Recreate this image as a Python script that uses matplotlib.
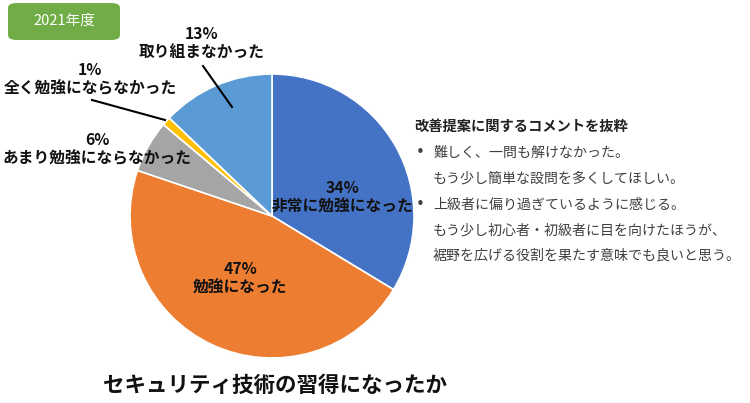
import matplotlib.pyplot as plt
from matplotlib.patches import FancyBboxPatch

plt.rcParams['font.family'] = ['Noto Sans CJK JP', 'DejaVu Sans']

# data
labels = ['非常に勉強になった', '勉強になった', 'あまり勉強にならなかった',
          '全く勉強にならなかった', '取り組まなかった']
values = [34, 47, 6, 1, 13]
colors = ['#4472C4', '#ED7D31', '#A5A5A5', '#FFC000', '#5B9BD5']
title = 'セキュリティ技術の習得になったか'
year_label = '2021年度'
comment_head = '改善提案に関するコメントを抜粋'
comments = [
    ['難しく、一問も解けなかった。', 'もう少し簡単な設問を多くしてほしい。'],
    ['上級者に偏り過ぎているように感じる。', 'もう少し初心者・初級者に目を向けたほうが、',
     '裾野を広げる役割を果たす意味でも良いと思う。'],
]

W, H = 750, 403
fig = plt.figure(figsize=(W / 100, H / 100), dpi=100)


def fx(x):
    return x / W


def fy(y):
    return 1 - y / H


# pie axes: centre (272, 216), radius 142 px
cx, cy, r = 272, 216, 142
ax = fig.add_axes([fx(cx - r), fy(cy + r), 2 * r / W, 2 * r / H])
ax.pie(values, colors=colors, startangle=90, counterclock=False,
       wedgeprops=dict(edgecolor='white', linewidth=1.2))
ax.set_xlim(-1, 1)
ax.set_ylim(-1, 1)
ax.axis('off')


def d(px, py):
    # pixel -> pie data coords
    return ((px - cx) / r, (cy - py) / r)


lab_kw = dict(ha='center', va='center', fontsize=11.3, fontweight='bold',
              color='#111111', linespacing=1.2)

# label positions (pixels)
label_pos = [(343, 197), (240, 278), (97, 149), (90, 79), (202, 43)]
for lab, v, (px, py) in zip(labels, values, label_pos):
    ax.text(*d(px, py), f'{v}%\n{lab}', clip_on=False, **lab_kw)

# leader lines
ax.plot(*zip(d(203, 66), d(232, 107)), color='black', lw=1.5, clip_on=False)
ax.plot(*zip(d(92, 100), d(165, 120)), color='black', lw=1.5, clip_on=False)

# year badge
badge = FancyBboxPatch((fx(8), fy(40)), fx(112), 37 / H,
                       boxstyle='round,pad=0,rounding_size=0.012',
                       transform=fig.transFigure, facecolor='#70AD47',
                       edgecolor='none')
fig.patches.append(badge)
fig.text(fx(64), fy(21), year_label, ha='center', va='center',
         color='white', fontsize=10.5)

# title
fig.text(fx(275), fy(385), title, ha='center', va='center',
         fontsize=15.5, fontweight='bold', color='#111111')

# comments
fig.text(fx(414), fy(127), comment_head, ha='left', va='center',
         fontsize=10.3, fontweight='bold', color='#222222')
y = 153
for group in comments:
    fig.text(fx(416), fy(y), '•', ha='left', va='center',
             fontsize=11, color='#404040', family='DejaVu Sans')
    for line in group:
        fig.text(fx(433), fy(y), line, ha='left', va='center',
                 fontsize=10.1, color='#404040')
        y += 25.7

fig.savefig('out.png', dpi=100)
